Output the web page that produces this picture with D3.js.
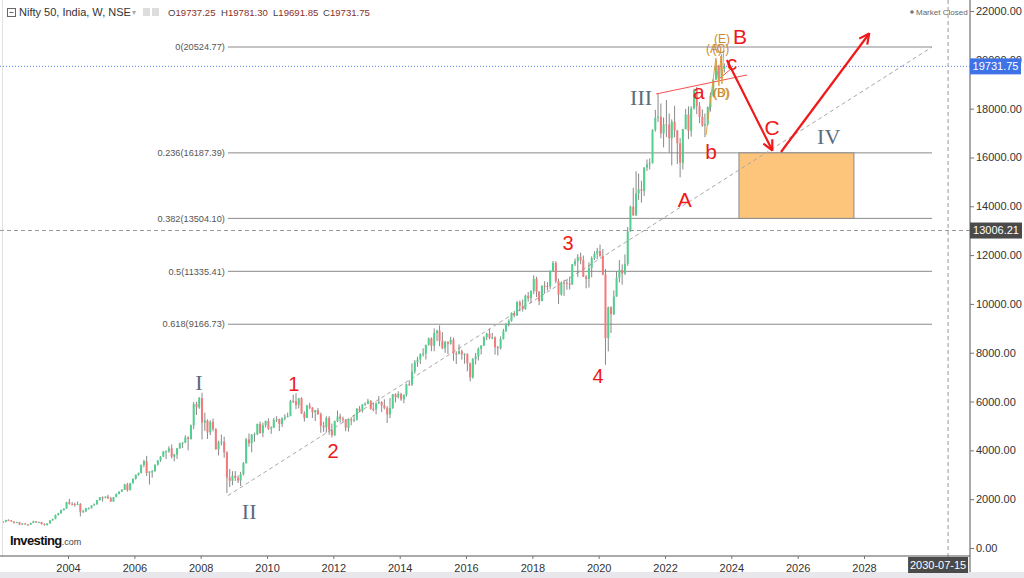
<!DOCTYPE html>
<html><head><meta charset="utf-8">
<script src="https://cdnjs.cloudflare.com/ajax/libs/d3/7.8.5/d3.min.js"></script>
<style>body{margin:0;background:#fff;} svg{display:block;font-family:"Liberation Sans",Arial,sans-serif;}</style>
</head><body><svg id="c" width="1024" height="578"></svg>
<script>
// ---------- DATA (monthly OHLC, Jan 2002 .. Oct 2023) ----------
const startMonth = "2002-01-01";
const openV = [
1059,1075,1142,1129,1084,1028,1058,959,1011,964,952,1026,
1094,1041,1063,978,934,1006,1134,1185,1356,1418,1556,1615,
1880,1810,1801,1772,1796,1484,1505,1632,1632,1746,1786,1959,
2081,2058,2103,2036,1902,2087,2221,2312,2385,2601,2371,2652,
2837,3001,3075,3403,3558,3071,3128,3143,3413,3588,3744,3955,
3966,4083,3745,3822,4087,4296,4318,4529,4464,5021,5901,5763,
6139,5137,5224,4735,5166,4870,4041,4333,4360,3921,2885,2755,
2959,2874,2763,3021,3474,4449,4291,4636,4662,5084,4712,5033,
5201,4882,4922,5249,5278,5087,5313,5368,5402,6030,6018,5863,
6135,5506,5333,5834,5749,5560,5647,5482,5001,4943,5327,4832,
4624,5199,5385,5296,5248,4924,5279,5229,5259,5703,5620,5880,
5905,6035,5693,5683,5930,5986,5842,5742,5471,5735,6299,6176,
6304,6090,6277,6704,6696,7230,7611,7721,7954,7965,8322,8588,
8283,8809,8902,8491,8182,8434,8369,8533,7971,7949,8066,7935,
7946,7564,6987,7738,7850,8160,8288,8639,8786,8611,8626,8224,
8186,8561,8880,9174,9304,9621,9521,10077,9918,9789,10335,10227,
10531,11028,10493,10114,10739,10736,10714,11357,11681,10930,10387,10877,
10863,10831,10793,11624,11748,11923,11789,11118,11023,11474,11877,12056,
12168,11962,11202,8598,9860,9580,10302,11073,11388,11248,11642,12969,
13982,13635,14529,14691,14631,15583,15722,15763,17132,17618,17672,16983,
17354,17340,16794,17465,17103,16585,15780,17158,17759,17094,18012,18758,
18105,17662,17304,17360,18065,18534,19189,19754,19254,19638];
const highV = [
1107,1157,1177,1145,1094,1075,1073,1016,1020,982,1034,1118,
1100,1077,1072,1012,1010,1140,1202,1370,1440,1570,1625,1888,
2015,1880,1860,1910,1840,1560,1640,1660,1750,1825,1965,2090,
2115,2115,2180,2100,2090,2225,2320,2410,2630,2670,2660,2850,
3010,3090,3420,3610,3775,3150,3200,3420,3600,3760,3970,4000,
4170,4245,3860,4100,4310,4330,4620,4580,5060,5980,5990,6190,
6357,5545,5270,5230,5300,4910,4400,4650,4560,3960,3240,3150,
3150,2970,3120,3520,4510,4690,4670,4730,5090,5180,5140,5220,
5310,4990,5330,5400,5300,5350,5480,5550,6070,6285,6338,6150,
6180,5600,5870,5945,5770,5660,5740,5550,5170,5400,5400,5100,
5220,5630,5500,5380,5280,5290,5350,5450,5735,5815,5885,5965,
6110,6050,5970,5960,6230,6010,6090,5810,6140,6310,6340,6420,
6360,6290,6740,6870,7560,7700,7840,7970,8180,8330,8620,8630,
8996,8941,9119,8845,8490,8470,8655,8620,8055,8340,8120,7980,
7973,7600,7780,7990,8215,8310,8675,8820,8970,8810,8670,8275,
8670,8980,9220,9370,9650,9710,10115,10140,10180,10385,10490,10550,
11172,11120,10530,10760,10930,10890,11370,11760,11750,11035,10920,10990,
10990,11120,11630,11860,12040,12100,11980,11180,11700,11945,12160,12295,
12430,12250,11430,9890,9900,10555,11340,11795,11620,12030,13150,14025,
14755,15432,15340,15045,15610,15915,15962,17150,17950,18604,18210,17640,
18350,17795,17560,18115,17130,16795,17175,17990,18095,18100,18815,18890,
18265,17970,17800,18090,18660,19200,19990,19795,20222,19850];
const lowV = [
1039,1060,1119,1074,1002,1019,951,953,957,922,945,1021,
1032,1030,967,920,930,1000,1120,1180,1330,1410,1530,1610,
1780,1740,1690,1760,1292,1440,1470,1580,1620,1730,1780,1950,
1900,2040,2010,1900,1896,2080,2200,2290,2380,2310,2360,2640,
2800,2960,3050,3310,2950,2600,2880,3130,3380,3530,3730,3650,
3900,3670,3550,3650,4060,4100,4300,4000,4440,4860,5450,5700,
4448,4800,4470,4630,4780,4030,3790,4200,3700,2250,2500,2570,
2750,2660,2540,2970,3460,4150,3920,4350,4620,4680,4540,4940,
4840,4675,4920,5160,4790,4960,5230,5350,5400,5940,5690,5720,
5500,5180,5330,5690,5330,5200,5450,4720,4760,4730,4640,4530,
4590,5160,5140,5150,4790,4770,5030,5160,5215,5570,5550,5820,
5890,5670,5600,5480,5910,5570,5680,5120,5320,5700,5970,6130,
6030,5930,6200,6650,6640,7140,7420,7540,7840,7720,8290,8060,
8065,8470,8270,8145,7998,7940,8330,7670,7540,7930,7715,7550,
7240,6825,6940,7520,7680,7930,8280,8520,8550,8550,7920,7890,
8130,8540,8860,9075,9270,9450,9520,9690,9690,9760,10095,10030,
10400,10280,9950,10110,10420,10550,10600,11350,10850,10000,10340,10330,
10580,10585,10780,11550,11110,11625,11100,10640,10670,11090,11800,11830,
11930,11175,7511,8055,8810,9545,10300,10880,10790,11190,11560,12960,
13600,13600,14260,14150,14420,15450,15510,15760,17055,17450,16780,16410,
16840,16200,15670,16825,15735,15185,15510,17155,16750,16855,17960,17775,
17405,17255,16830,17310,17885,18465,19180,19225,19250,19480];
const closeV = [
1075,1142,1129,1084,1028,1058,959,1011,964,952,1026,1094,
1041,1063,978,934,1006,1134,1185,1356,1418,1556,1615,1880,
1810,1801,1772,1796,1484,1505,1632,1632,1746,1786,1959,2081,
2058,2103,2036,1902,2087,2221,2312,2385,2601,2371,2652,2837,
3001,3075,3403,3558,3071,3128,3143,3413,3588,3744,3955,3966,
4083,3745,3822,4087,4296,4318,4529,4464,5021,5901,5763,6139,
5137,5224,4735,5166,4870,4041,4333,4360,3921,2885,2755,2959,
2874,2763,3021,3474,4449,4291,4636,4662,5084,4712,5033,5201,
4882,4922,5249,5278,5087,5313,5368,5402,6030,6018,5863,6135,
5506,5333,5834,5749,5560,5647,5482,5001,4943,5327,4832,4624,
5199,5385,5296,5248,4924,5279,5229,5259,5703,5620,5880,5905,
6035,5693,5683,5930,5986,5842,5742,5471,5735,6299,6176,6304,
6090,6277,6704,6696,7230,7611,7721,7954,7965,8322,8588,8283,
8809,8902,8491,8182,8434,8369,8533,7971,7949,8066,7935,7946,
7564,6987,7738,7850,8160,8288,8639,8786,8611,8626,8224,8186,
8561,8880,9174,9304,9621,9521,10077,9918,9789,10335,10227,10531,
11028,10493,10114,10739,10736,10714,11357,11681,10930,10387,10877,10863,
10831,10793,11624,11748,11923,11789,11118,11023,11474,11877,12056,12168,
11962,11202,8598,9860,9580,10302,11073,11388,11248,11642,12969,13982,
13635,14529,14691,14631,15583,15722,15763,17132,17618,17672,16983,17354,
17340,16794,17465,17103,16585,15780,17158,17759,17094,18012,18758,18105,
17662,17304,17360,18065,18534,19189,19754,19254,19638,19731.75];

const yearTicks = [2004,2006,2008,2010,2012,2014,2016,2018,2020,2022,2024,2026,2028];
const priceTicks = [0,2000,4000,6000,8000,10000,12000,14000,16000,18000,20000,22000];
const fibRatios = ["0","0.236","0.382","0.5","0.618"];
const fibValues = [20524.77,16187.39,13504.10,11335.41,9166.73];
const fibSpan = ["2008-10-27","2030-01-19"];
const trendLine = [["2008-10-27",2146],["2030-01-19",20524.77]];
const targetBox = {from:"2024-03-25", to:"2027-09-12", top:16187.39, bottom:13504.10};
const arrows = [[["2023-11-13",19993],["2025-03-25",16306]],[["2025-07-01",16224],["2028-02-24",21058]]];
const redLines = [[["2021-09-24",18600],["2024-06-21",19378]],[["2023-08-06",19173],["2024-01-08",19665]]];
const orangeWave = [["2023-03-28",16920],["2023-07-15",20075],["2023-08-17",18928],["2023-09-08",20157],["2023-09-20",19010],["2023-10-12",20566]];
const romanLabels = [["I","2007-12-14",6800],["II","2009-06-18",1516],["III","2021-04-12",18477],["IV","2026-12-08",16879]];
const redNums = [["1","2010-10-23",6719],["2","2011-12-28",3974],["3","2019-01-30",12495],["4","2019-12-24",7047]];
const redLetters = [["A","2022-08-07",14257],["B","2024-04-05",20935],["C","2025-03-25",17207],["a","2023-01-08",18682],["b","2023-05-22",16224],["c","2024-01-08",19870]];
const orangeLabels = [["(E)","2023-09-20",20853],["(A)","2023-06-24",20443],["(C)","2023-09-08",20443],["(B)","2023-09-08",18641],["(D)","2023-09-16",18641]];
const lastPrice = 19731.75;
const crossDate = "2030-07-15", crossValue = 13006.21;
const header = {name:"Nifty 50, India, W, NSE", O:"19737.25", H:"19781.30", L:"19691.85", C:"19731.75"};

// ---------- SCALES ----------
const P = d3.timeParse("%Y-%m-%d");
const W = 1024, H = 578, axisX = 970, axisY = 556;
const x = d3.scaleTime().domain([new Date(2004,0,1), new Date(2028,0,1)]).range([68,864]);
const y = d3.scaleLinear().domain([0,22000]).range([548,11]);
const months = d3.timeMonth.range(P(startMonth), d3.timeMonth.offset(P(startMonth), closeV.length));
const candles = months.map((m,i)=>({d:d3.timeDay.offset(m,15), o:openV[i], h:highV[i], l:lowV[i], c:closeV[i]}));

const svg = d3.select("#c");
svg.append("rect").attr("width",W).attr("height",H).attr("fill","#fff");
const defs = svg.append("defs");
defs.append("clipPath").attr("id","plot").append("rect").attr("x",0).attr("y",0).attr("width",axisX).attr("height",axisY);
defs.append("marker").attr("id","ah").attr("viewBox","0 0 12 12").attr("refX",10.5).attr("refY",6)
  .attr("markerWidth",12).attr("markerHeight",12).attr("markerUnits","userSpaceOnUse").attr("orient","auto")
  .append("path").attr("d","M1,1 L11,6 L1,11").attr("fill","none").attr("stroke","#f01818").attr("stroke-width",2.2);

const g = svg.append("g").attr("clip-path","url(#plot)");
svg.append("line").attr("x1",2.5).attr("x2",2.5).attr("y1",0).attr("y2",axisY).attr("stroke","#e2e2e2");

// fib levels
fibValues.forEach((v,i)=>{
  g.append("line").attr("x1",x(P(fibSpan[0]))).attr("x2",x(P(fibSpan[1]))).attr("y1",y(v)).attr("y2",y(v))
    .attr("stroke","#8a8a8a").attr("stroke-width",1);
  g.append("text").attr("x",x(P(fibSpan[0]))-3).attr("y",y(v)).attr("dy","0.35em").attr("text-anchor","end")
    .attr("font-size",9.2).attr("fill","#555").text(fibRatios[i]+"("+v.toFixed(2)+")");
});

// target box
g.append("rect").attr("x",x(P(targetBox.from))).attr("y",y(targetBox.top))
  .attr("width",x(P(targetBox.to))-x(P(targetBox.from))).attr("height",y(targetBox.bottom)-y(targetBox.top))
  .attr("fill","#fdc47c").attr("stroke","#8a8a8a").attr("stroke-width",1);

// trend line
const ln = d3.line().x(d=>x(P(d[0]))).y(d=>y(d[1]));
g.append("path").attr("d",ln(trendLine)).attr("fill","none").attr("stroke","#a8a8a8").attr("stroke-width",1).attr("stroke-dasharray","4,3");

// last price dotted line & crosshair
g.append("line").attr("x1",0).attr("x2",axisX).attr("y1",y(lastPrice)).attr("y2",y(lastPrice))
  .attr("stroke","#5b86ee").attr("stroke-width",1).attr("stroke-dasharray","1,2");
svg.append("line").attr("x1",0).attr("x2",axisX).attr("y1",y(crossValue)).attr("y2",y(crossValue))
  .attr("stroke","#9a9a9a").attr("stroke-width",1).attr("stroke-dasharray","4,3");
svg.append("line").attr("x1",x(P(crossDate))).attr("x2",x(P(crossDate))).attr("y1",0).attr("y2",572)
  .attr("stroke","#9a9a9a").attr("stroke-width",1).attr("stroke-dasharray","4,3");

// candles
const cg = g.append("g");
cg.selectAll("line.w").data(candles).join("line").attr("class","w")
  .attr("x1",d=>x(d.d)).attr("x2",d=>x(d.d)).attr("y1",d=>y(d.h)).attr("y2",d=>y(d.l))
  .attr("stroke","#7c7c7c").attr("stroke-width",0.9);
cg.selectAll("rect").data(candles).join("rect")
  .attr("x",d=>x(d.d)-1).attr("width",2)
  .attr("y",d=>y(Math.max(d.o,d.c))).attr("height",d=>Math.max(1,Math.abs(y(d.o)-y(d.c))))
  .attr("fill",d=>d.c>=d.o?"#4fd08e":"#f27a7a");

// red lines and orange wave
redLines.forEach(l=>g.append("path").attr("d",ln(l)).attr("fill","none").attr("stroke","#f55050").attr("stroke-width",1));
g.append("path").attr("d",ln(orangeWave)).attr("fill","none").attr("stroke","#e0a040").attr("stroke-width",1);

// arrows
arrows.forEach(a=>g.append("path").attr("d",ln(a)).attr("fill","none").attr("stroke","#f01818")
  .attr("stroke-width",2.2).attr("marker-end","url(#ah)"));

// labels
romanLabels.forEach(l=>g.append("text").attr("x",x(P(l[1]))).attr("y",y(l[2])).attr("dy","0.35em").attr("text-anchor","middle")
  .attr("font-family","'Liberation Serif','Times New Roman',serif").attr("font-size",22).attr("fill","#5b6b7b").text(l[0]));
redNums.forEach(l=>g.append("text").attr("x",x(P(l[1]))).attr("y",y(l[2])).attr("dy","0.35em").attr("text-anchor","middle")
  .attr("font-size",20).attr("fill","#f01818").text(l[0]));
redLetters.forEach(l=>g.append("text").attr("x",x(P(l[1]))).attr("y",y(l[2])).attr("dy","0.35em").attr("text-anchor","middle")
  .attr("font-size",21).attr("fill","#f01818").text(l[0]));
orangeLabels.forEach(l=>g.append("text").attr("x",x(P(l[1]))).attr("y",y(l[2])).attr("dy","0.35em").attr("text-anchor","middle")
  .attr("font-size",12).attr("fill","#c98a30").text(l[0]));

// axes
const xAxis = d3.axisBottom(x).tickValues(yearTicks.map(t=>new Date(t,0,1))).tickFormat(d3.timeFormat("%Y")).tickSize(3).tickSizeOuter(0);
const xa = svg.append("g").attr("transform",`translate(0,${axisY})`).call(xAxis);
xa.select(".domain").attr("d",`M0,0H${axisX}`).attr("stroke","#555");
xa.selectAll(".tick line").attr("stroke","#777");
xa.selectAll("text").attr("font-size",11).attr("fill","#333").attr("font-family","'Liberation Sans',Arial,sans-serif").attr("dy","0.9em");
const yAxis = d3.axisRight(y).tickValues(priceTicks).tickFormat(d3.format(".2f")).tickSize(4).tickSizeOuter(0);
const ya = svg.append("g").attr("transform",`translate(${axisX},0)`).call(yAxis);
ya.select(".domain").attr("d","M0,0V572").attr("stroke","#555");
ya.selectAll(".tick line").attr("stroke","#777");
ya.selectAll("text").attr("font-size",11).attr("fill","#333").attr("font-family","'Liberation Sans',Arial,sans-serif").attr("x",6);

// bottom strip
svg.append("rect").attr("x",0).attr("y",572).attr("width",W).attr("height",6).attr("fill","#e8e8ec");

// price labels
function tag(yv, txt, fill, w){
  svg.append("rect").attr("x",axisX).attr("y",y(yv)-8).attr("width",w).attr("height",16).attr("fill",fill);
  svg.append("text").attr("x",axisX+w/2).attr("y",y(yv)).attr("dy","0.35em").attr("text-anchor","middle")
    .attr("font-size",11).attr("fill","#fff").text(txt);
}
tag(lastPrice, lastPrice.toFixed(2), "#3f72e6", 51);
tag(crossValue, crossValue.toFixed(2), "#4a4a4a", 52);
const cx = x(P(crossDate));
svg.append("rect").attr("x",cx-40).attr("y",axisY+1).attr("width",60).attr("height",16).attr("fill","#4a4a4a");
svg.append("text").attr("x",cx-10).attr("y",axisY+9).attr("dy","0.35em").attr("text-anchor","middle")
  .attr("font-size",11).attr("fill","#fff").text(crossDate);

// header
svg.append("rect").attr("x",7.5).attr("y",8.5).attr("width",8).attr("height",8).attr("fill","none").attr("stroke","#666");
svg.append("line").attr("x1",9.5).attr("x2",13.5).attr("y1",12.5).attr("y2",12.5).attr("stroke","#666");
svg.append("text").attr("x",19).attr("y",16).attr("font-size",11).attr("fill","#333").text(header.name);
svg.append("text").attr("x",132).attr("y",15).attr("font-size",8).attr("fill","#aaa").text("▾");
svg.append("rect").attr("x",143).attr("y",8).attr("width",7).attr("height",8).attr("fill","#ddd");
svg.append("rect").attr("x",152).attr("y",8).attr("width",7).attr("height",8).attr("fill","#ddd");
[["O",header.O,168],["H",header.H,221],["L",header.L,273],["C",header.C,323]].forEach(k=>{
  const t = svg.append("text").attr("x",k[2]).attr("y",16).attr("font-size",9.6);
  t.append("tspan").attr("fill","#444").text(k[0]);
  t.append("tspan").attr("fill","#8a2f28").text(k[1]);
});
svg.append("circle").attr("cx",912).attr("cy",12).attr("r",1.8).attr("fill","#777");
svg.append("text").attr("x",916).attr("y",15).attr("font-size",8).attr("fill","#666").text("Market Closed");

// logo
const lg = svg.append("text").attr("x",10).attr("y",545);
lg.append("tspan").attr("font-size",13).attr("font-weight","bold").attr("letter-spacing","-0.6").attr("fill","#111").text("Investing");
lg.append("tspan").attr("font-size",9).attr("fill","#444").text(".com");
</script></body></html>
